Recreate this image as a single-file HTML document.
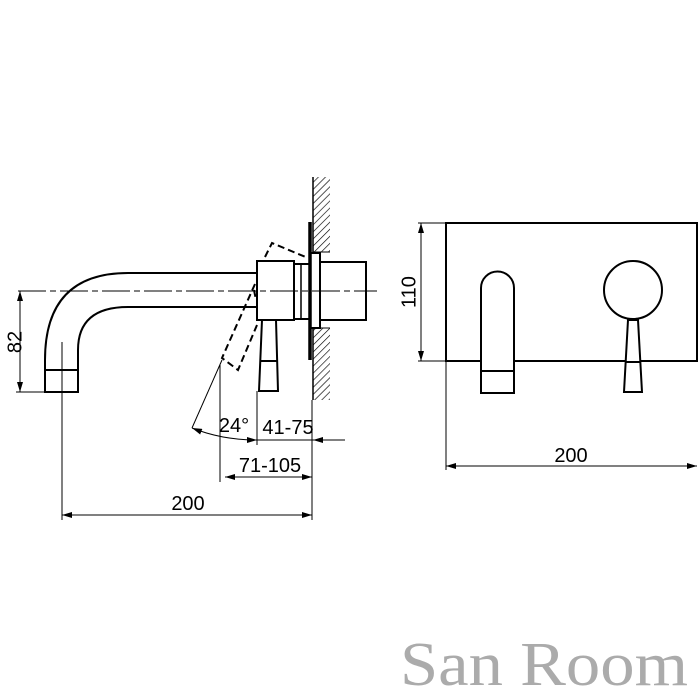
<!DOCTYPE html>
<html><head><style>html,body{margin:0;padding:0;background:#fff}svg{display:block}</style></head>
<body>
<svg width="698" height="698" viewBox="0 0 698 698" xmlns="http://www.w3.org/2000/svg">
<defs>
<pattern id="h" width="5" height="5" patternUnits="userSpaceOnUse" patternTransform="rotate(45)">
<line x1="0" y1="0" x2="0" y2="5" stroke="#000" stroke-width="1.3"/>
</pattern>
<marker id="a" viewBox="0 0 10 6" refX="10" refY="3" markerWidth="10" markerHeight="6" orient="auto-start-reverse" markerUnits="userSpaceOnUse"><path d="M0,0 L10,3 L0,6z" fill="#000"/></marker>
</defs>
<g fill="none" stroke="#000" stroke-width="2">
<rect x="313" y="177" width="17" height="75" fill="url(#h)" stroke="none"/>
<rect x="313" y="328" width="17" height="72" fill="url(#h)" stroke="none"/>
<line x1="313" y1="177" x2="313" y2="252" stroke-width="1.5"/>
<line x1="313" y1="328" x2="313" y2="400" stroke-width="1.5"/>
<line x1="313" y1="252" x2="330" y2="252" stroke-width="1"/>
<line x1="313" y1="328" x2="330" y2="328" stroke-width="1"/>
<line x1="310" y1="222" x2="310" y2="360" stroke-width="3.5"/>
<path d="M256,273 L128,273 Q45,273 45,360 L45,392 L78,392 L78,350 Q78,307 128,307 L256,307"/>
<line x1="45" y1="370" x2="78" y2="370"/>
<rect x="257" y="261" width="37" height="59"/>
<rect x="294" y="264" width="16" height="55"/>
<line x1="301" y1="264" x2="301" y2="319" stroke-width="1.5"/>
<rect x="310" y="253" width="10" height="75"/>
<rect x="320" y="262" width="46" height="58"/>
<path d="M262,320 L276,320 L278,391 L259,391 Z"/>
<line x1="260" y1="361" x2="277" y2="361"/>
<g stroke-dasharray="7,4" stroke-width="2">
<path d="M265,257 L272,243 L308,258"/>
<path d="M255,284 L222,358 L238,370 L257,325"/>
<path d="M254,290 L256,300"/>
</g>
</g>
<g fill="none" stroke="#000" stroke-width="1">
<line x1="18" y1="291" x2="377" y2="291" stroke-dasharray="28,4,6,4"/>
<line x1="16" y1="392" x2="45" y2="392"/>
<line x1="20" y1="291" x2="20" y2="392" marker-start="url(#a)" marker-end="url(#a)"/>
<line x1="62" y1="342" x2="62" y2="520"/>
<line x1="312" y1="400" x2="312" y2="520"/>
<line x1="257" y1="391" x2="257" y2="445"/>
<line x1="220" y1="365" x2="220" y2="482"/>
<line x1="222" y1="360" x2="192" y2="428"/>
<path d="M192,428 Q222,440 257,440" marker-start="url(#a)" marker-end="url(#a)"/>
<line x1="257" y1="440" x2="345" y2="440"/>
<line x1="325" y1="440" x2="313" y2="440" marker-end="url(#a)"/>
<line x1="225" y1="477" x2="312" y2="477" marker-start="url(#a)" marker-end="url(#a)"/>
<line x1="62" y1="515" x2="312" y2="515" marker-start="url(#a)" marker-end="url(#a)"/>
<line x1="418" y1="223" x2="446" y2="223"/>
<line x1="418" y1="361" x2="446" y2="361"/>
<line x1="421" y1="223" x2="421" y2="361" marker-start="url(#a)" marker-end="url(#a)"/>
<line x1="446" y1="361" x2="446" y2="470"/>
<line x1="446" y1="466" x2="697" y2="466" marker-start="url(#a)" marker-end="url(#a)"/>
</g>
<g fill="none" stroke="#000" stroke-width="2">
<rect x="446" y="223" width="251" height="138"/>
<path d="M481,393 L481,288 A16.5,16.5 0 0 1 514,288 L514,393 Z" fill="#fff"/>
<line x1="481" y1="371" x2="514" y2="371"/>
<circle cx="633" cy="290" r="29"/>
<path d="M628,320 L638,320 L642,392 L624,392 Z" fill="#fff"/>
<line x1="625" y1="362" x2="641" y2="362"/>
</g>
<g font-family="Liberation Sans, sans-serif" font-size="20" fill="#000">
<text x="16" y="342" transform="rotate(-90 16 342)" text-anchor="middle" dominant-baseline="middle">82</text>
<text x="410" y="292" transform="rotate(-90 410 292)" text-anchor="middle" dominant-baseline="middle">110</text>
<text x="234" y="432" text-anchor="middle">24°</text>
<text x="288" y="434" text-anchor="middle">41-75</text>
<text x="270" y="472" text-anchor="middle">71-105</text>
<text x="188" y="510" text-anchor="middle">200</text>
<text x="571" y="462" text-anchor="middle">200</text>
</g>
<text x="400" y="685" font-family="Liberation Serif, serif" font-size="62" fill="#ababab" textLength="288" lengthAdjust="spacingAndGlyphs">San Room</text>
</svg>
</body></html>
